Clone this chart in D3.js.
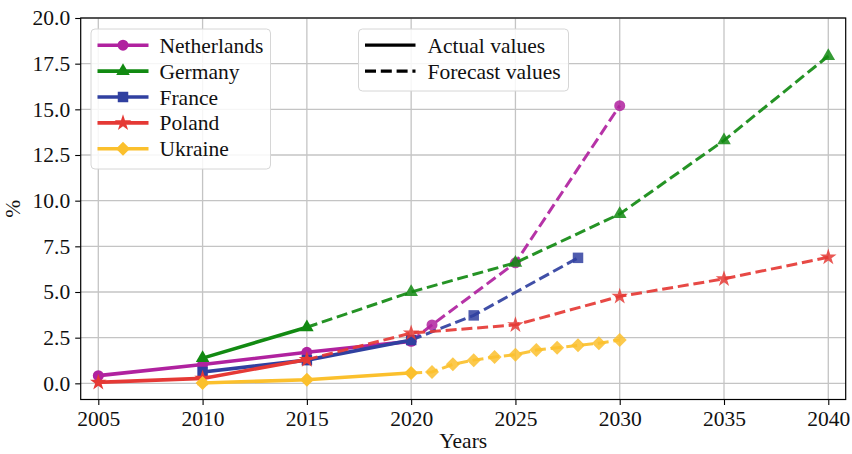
<!DOCTYPE html>
<html>
<head>
<meta charset="utf-8">
<script src="https://cdn.jsdelivr.net/npm/d3@7"></script>
<style>
  html, body { margin: 0; padding: 0; background: #fff; }
  svg { display: block; font-family: "Liberation Serif", "DejaVu Serif", serif; }
</style>
</head>
<body>
<svg id="chart" width="852" height="454"></svg>
<script>
// Axis ticks
const xTicks = [2005, 2010, 2015, 2020, 2025, 2030, 2035, 2040];
const yTicks = [0, 2.5, 5, 7.5, 10, 12.5, 15, 17.5, 20];

// Country names (legend order)
const countries = ["Netherlands", "Germany", "France", "Poland", "Ukraine"];

// Netherlands
const nlActualYears = [2005, 2010, 2015, 2020];
const nlActual = [0.42, 1.03, 1.70, 2.30];
const nlForecastYears = [2020, 2021, 2025, 2030];
const nlForecast = [2.30, 3.20, 6.60, 15.20];

// Germany
const deActualYears = [2010, 2015];
const deActual = [1.38, 3.07];
const deForecastYears = [2015, 2020, 2025, 2030, 2035, 2040];
const deForecast = [3.07, 5.00, 6.60, 9.27, 13.30, 17.92];

// France
const frActualYears = [2010, 2015, 2020];
const frActual = [0.62, 1.27, 2.37];
const frForecastYears = [2020, 2023, 2028];
const frForecast = [2.37, 3.72, 6.87];

// Poland
const plActualYears = [2005, 2010, 2015];
const plActual = [0.05, 0.27, 1.30];
const plForecastYears = [2015, 2020, 2025, 2030, 2035, 2040];
const plForecast = [1.30, 2.75, 3.20, 4.76, 5.72, 6.90];

// Ukraine
const uaActualYears = [2010, 2015, 2020];
const uaActual = [0.02, 0.20, 0.57];
const uaForecastYears = [2020, 2021, 2022, 2023, 2024, 2025, 2026, 2027, 2028, 2029, 2030];
const uaForecast = [0.57, 0.62, 1.04, 1.27, 1.44, 1.57, 1.82, 1.95, 2.08, 2.20, 2.37];

// Styling per country
const colors = ["#B0229F", "#128A12", "#3040A0", "#E53935", "#FBC02D"];
const symbols = [
  {type: d3.symbolCircle, size: 95, rotate: 0},
  {type: d3.symbolTriangle, size: 80, rotate: 0},
  {type: d3.symbolSquare, size: 110, rotate: 0},
  {type: d3.symbolStar, size: 85, rotate: 0},
  {type: d3.symbolSquare, size: 98, rotate: 45}
];

const series = [
  {ay: nlActualYears, av: nlActual, fy: nlForecastYears, fv: nlForecast},
  {ay: deActualYears, av: deActual, fy: deForecastYears, fv: deForecast},
  {ay: frActualYears, av: frActual, fy: frForecastYears, fv: frForecast},
  {ay: plActualYears, av: plActual, fy: plForecastYears, fv: plForecast},
  {ay: uaActualYears, av: uaActual, fy: uaForecastYears, fv: uaForecast}
];

const svg = d3.select("#chart");
const margin = {left: 80.7, right: 852 - 845.7, top: 18, bottom: 454 - 399.5};
const W = 852, H = 454;

const x = d3.scaleLinear().domain([2004.156, 2040.835]).range([margin.left, W - margin.right]);
const y = d3.scaleLinear().domain([-0.885, 20]).range([H - margin.bottom, margin.top]);

const FONT = 21.5;

// Grid
const grid = svg.append("g");
grid.selectAll("line.gx").data(xTicks).join("line")
  .attr("x1", d => x(d)).attr("x2", d => x(d))
  .attr("y1", y.range()[0]).attr("y2", y.range()[1])
  .attr("stroke", "#c4c4c4").attr("stroke-width", 1.3);
grid.selectAll("line.gy").data(yTicks).join("line")
  .attr("y1", d => y(d)).attr("y2", d => y(d))
  .attr("x1", x.range()[0]).attr("x2", x.range()[1])
  .attr("stroke", "#c4c4c4").attr("stroke-width", 1.3);

// Lines and markers
const line = d3.line().x(d => x(d[0])).y(d => y(d[1]));
const symbolPath = (s) => d3.symbol().type(s.type).size(s.size)();

const plot = svg.append("g");
series.forEach((s, i) => {
  const actual = d3.zip(s.ay, s.av);
  const forecast = d3.zip(s.fy, s.fv);
  const g = plot.append("g");
  g.append("path").datum(actual).attr("d", line)
    .attr("fill", "none").attr("stroke", colors[i]).attr("stroke-width", 3.6)
    .attr("stroke-linejoin", "round").attr("stroke-linecap", "square");
  g.selectAll("path.ma").data(actual).join("path")
    .attr("d", symbolPath(symbols[i]))
    .attr("transform", d => `translate(${x(d[0])},${y(d[1])}) rotate(${symbols[i].rotate})`)
    .attr("fill", colors[i]);
  g.append("path").datum(forecast).attr("d", line)
    .attr("fill", "none").attr("stroke", colors[i]).attr("stroke-width", 3)
    .attr("stroke-dasharray", "11,4.8").attr("opacity", 0.92);
  g.selectAll("path.mf").data(forecast.slice(1)).join("path")
    .attr("d", symbolPath(symbols[i]))
    .attr("transform", d => `translate(${x(d[0])},${y(d[1])}) rotate(${symbols[i].rotate})`)
    .attr("fill", colors[i]).attr("opacity", 0.85);
});

// Axes
const xAxis = d3.axisBottom(x).tickValues(xTicks).tickFormat(d3.format("d")).tickSize(5.5).tickPadding(6);
const yAxis = d3.axisLeft(y).tickValues(yTicks).tickFormat(d3.format(".1f")).tickSize(5.5).tickPadding(5);

const gx = svg.append("g").attr("transform", `translate(0,${y.range()[0]})`).call(xAxis);
const gy = svg.append("g").attr("transform", `translate(${x.range()[0]},0)`).call(yAxis);
[gx, gy].forEach(g => {
  g.select(".domain").remove();
  g.selectAll(".tick line").attr("stroke", "#000").attr("stroke-width", 1.1);
  g.selectAll(".tick text").attr("font-size", FONT).attr("fill", "#111")
    .attr("font-family", "Liberation Serif, serif");
});

// Frame
svg.append("rect")
  .attr("x", x.range()[0]).attr("y", y.range()[1])
  .attr("width", x.range()[1] - x.range()[0]).attr("height", y.range()[0] - y.range()[1])
  .attr("fill", "none").attr("stroke", "#000").attr("stroke-width", 1.2);

// Axis titles
svg.append("text").attr("x", (x.range()[0] + x.range()[1]) / 2).attr("y", 448)
  .attr("text-anchor", "middle").attr("font-size", FONT).attr("fill", "#111").text("Years");
svg.append("text").attr("transform", `translate(20,${(y.range()[0] + y.range()[1]) / 2}) rotate(-90)`)
  .attr("text-anchor", "middle").attr("font-size", FONT).attr("fill", "#111").text("%");

// Country legend
const leg1 = svg.append("g");
leg1.append("rect").attr("x", 91).attr("y", 29).attr("width", 179.5).attr("height", 140).attr("rx", 4)
  .attr("fill", "#fff").attr("fill-opacity", 0.85).attr("stroke", "#d6d6d6").attr("stroke-width", 1);
countries.forEach((name, i) => {
  const cy = 45.2 + i * 25.9;
  leg1.append("line").attr("x1", 97.5).attr("x2", 148.5).attr("y1", cy).attr("y2", cy)
    .attr("stroke", colors[i]).attr("stroke-width", 3.6);
  leg1.append("path").attr("d", symbolPath(symbols[i]))
    .attr("transform", `translate(123,${cy}) rotate(${symbols[i].rotate})`).attr("fill", colors[i]);
  leg1.append("text").attr("x", 159.5).attr("y", cy).attr("dy", "0.35em")
    .attr("font-size", FONT).attr("fill", "#111").text(name);
});

// Line-style legend
const styleLabels = ["Actual values", "Forecast values"];
const styleDash = [null, "11,4.8"];
const leg2 = svg.append("g");
leg2.append("rect").attr("x", 358.5).attr("y", 29).attr("width", 210).attr("height", 62).attr("rx", 4)
  .attr("fill", "#fff").attr("fill-opacity", 0.85).attr("stroke", "#d6d6d6").attr("stroke-width", 1);
styleLabels.forEach((name, i) => {
  const cy = 45.2 + i * 25.9;
  leg2.append("line").attr("x1", 365).attr("x2", 415.5).attr("y1", cy).attr("y2", cy)
    .attr("stroke", "#000").attr("stroke-width", 3.2).attr("stroke-dasharray", styleDash[i]);
  leg2.append("text").attr("x", 427.5).attr("y", cy).attr("dy", "0.35em")
    .attr("font-size", FONT).attr("fill", "#111").text(name);
});
</script>
</body>
</html>
